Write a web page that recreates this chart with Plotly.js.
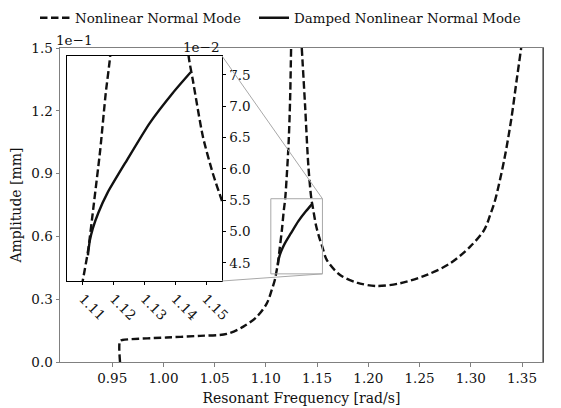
<!DOCTYPE html>
<html>
<head>
<meta charset="utf-8">
<script src="https://cdn.plot.ly/plotly-3.0.1.min.js"></script>
<style>html,body{margin:0;padding:0;background:#fff;}#chart{width:561px;height:408px;}</style>
</head>
<body>
<div id="chart"></div>
<script>
// Nonlinear Normal Mode backbone (null = break where curve leaves the top of the view)
const nnmFreq = [0.9576, 0.9576, 0.9600, 1.0030, 1.0357, 1.0618, 1.0780, 1.0911, 1.1009, 1.1057, 1.1087,
  1.1099, 1.1117, 1.1134, 1.1156, 1.1174, 1.1188, 1.1205, 1.1222, 1.1236, 1.1246, null,
  1.1350, 1.1383, 1.1415, 1.1444, 1.1457, 1.1490, 1.1522, 1.1551, 1.1595, 1.1724, 1.1888,
  1.2083, 1.2310, 1.2571, 1.2798, 1.2994, 1.3131, 1.3189, 1.3238, 1.3326, 1.3394, 1.3448, 1.3492];
const nnmAmp = [0.000, 0.100, 0.105, 0.117, 0.125, 0.134, 0.169, 0.216, 0.280, 0.344, 0.392,
  0.421, 0.471, 0.539, 0.630, 0.721, 0.778, 0.900, 1.050, 1.250, 1.500, null,
  1.500, 1.220, 0.933, 0.778, 0.742, 0.651, 0.593, 0.550, 0.487, 0.416, 0.379,
  0.363, 0.376, 0.416, 0.471, 0.551, 0.631, 0.702, 0.774, 0.965, 1.156, 1.347, 1.500];
// Damped Nonlinear Normal Mode
const dampFreq = [1.1116, 1.1122, 1.1132, 1.1150, 1.1180, 1.1243, 1.1317, 1.1392, 1.1450];
const dampAmp  = [0.462, 0.485, 0.505, 0.530, 0.562, 0.614, 0.673, 0.721, 0.754];

// Tick labels
const mainXTicks = [0.95, 1.00, 1.05, 1.10, 1.15, 1.20, 1.25, 1.30, 1.35];
const mainYTicks = [0.0, 0.3, 0.6, 0.9, 1.2, 1.5];
const insetXTicks = [1.11, 1.12, 1.13, 1.14, 1.15];
const insetYTicks = [0.45, 0.50, 0.55, 0.60, 0.65, 0.70, 0.75];
const insetYText = ['4.5', '5.0', '5.5', '6.0', '6.5', '7.0', '7.5'];

// Zoom window (main-axis units)
const zoomX = [1.1048, 1.1552];
const zoomY = [0.421, 0.780];

const FONT = 'DejaVu Serif, serif';
const dashStyle = '7.5px,3.5px';

const traces = [
  {x: nnmFreq, y: nnmAmp, mode: 'lines', name: 'Nonlinear Normal Mode', connectgaps: false, legend: 'legend',
   line: {color: '#111', width: 2.4, dash: dashStyle, shape: 'spline', smoothing: 0.9}, xaxis: 'x', yaxis: 'y'},
  {x: dampFreq, y: dampAmp, mode: 'lines', name: 'Damped Nonlinear Normal Mode', legend: 'legend2',
   line: {color: '#111', width: 2.4, shape: 'spline', smoothing: 0.6}, xaxis: 'x', yaxis: 'y'},
  {x: nnmFreq, y: nnmAmp, mode: 'lines', showlegend: false, connectgaps: false,
   line: {color: '#111', width: 2.4, dash: dashStyle, shape: 'spline', smoothing: 0.6}, xaxis: 'x2', yaxis: 'y2'},
  {x: dampFreq, y: dampAmp, mode: 'lines', showlegend: false,
   line: {color: '#111', width: 2.4, shape: 'spline', smoothing: 0.6}, xaxis: 'x2', yaxis: 'y2'}
];

const insetDomX = [0.0145, 0.3354];
const insetDomY = [0.258, 0.9745];

const legendCommon = {orientation: 'h', xanchor: 'left', yanchor: 'middle', y: 1.0955,
  font: {family: FONT, size: 13.4, color: '#111'}, bgcolor: 'rgba(0,0,0,0)'};

const layout = {
  width: 561, height: 408,
  margin: {l: 60, r: 18, t: 48, b: 46, autoexpand: false},
  paper_bgcolor: '#fff', plot_bgcolor: '#fff',
  font: {family: FONT, size: 13.5, color: '#111'},
  showlegend: true,
  legend: Object.assign({}, legendCommon, {x: -0.0518}),
  legend2: Object.assign({}, legendCommon, {x: 0.4017}),
  xaxis: {range: [0.899, 1.3705], tickvals: mainXTicks, ticktext: mainXTicks.map(v => v.toFixed(2)),
          showgrid: false, zeroline: false, showline: true, mirror: true, linecolor: '#808080', linewidth: 1,
          ticks: 'outside', ticklen: 3.5, tickcolor: '#808080',
          title: {text: 'Resonant Frequency [rad/s]', font: {family: FONT, size: 14}, standoff: 8},
          domain: [0, 1], anchor: 'y'},
  yaxis: {range: [0, 1.5], tickvals: mainYTicks, ticktext: mainYTicks.map(v => v.toFixed(1)),
          showgrid: false, zeroline: false, showline: true, mirror: true, linecolor: '#808080', linewidth: 1,
          ticks: 'outside', ticklen: 3.5, tickcolor: '#808080',
          title: {text: 'Amplitude [mm]', font: {family: FONT, size: 14}, standoff: 6},
          domain: [0, 1], anchor: 'x'},
  xaxis2: {range: zoomX, domain: insetDomX, anchor: 'y2', tickvals: insetXTicks,
           ticktext: insetXTicks.map(v => v.toFixed(2)), tickangle: 45,
           showgrid: false, zeroline: false, showline: true, mirror: true, linecolor: '#000', linewidth: 1,
           ticks: 'outside', ticklen: 3.5, tickcolor: '#000'},
  yaxis2: {range: zoomY, domain: insetDomY, anchor: 'x2', side: 'right', tickvals: insetYTicks, ticktext: insetYText,
           showgrid: false, zeroline: false, showline: true, mirror: true, linecolor: '#000', linewidth: 1,
           ticks: 'outside', ticklen: 3.5, tickcolor: '#000'},
  shapes: [
    {type: 'rect', xref: 'x', yref: 'y', x0: zoomX[0], x1: zoomX[1], y0: zoomY[0], y1: zoomY[1],
     line: {color: '#a8a8a8', width: 1}, layer: 'above'},
    {type: 'line', xref: 'x', yref: 'y', x0: 1.0572, y0: 1.4618, x1: zoomX[1], y1: zoomY[1],
     line: {color: '#a8a8a8', width: 1}, layer: 'above'},
    {type: 'line', xref: 'x', yref: 'y', x0: 1.0572, y0: 0.387, x1: zoomX[1], y1: zoomY[0],
     line: {color: '#a8a8a8', width: 1}, layer: 'above'},
    {type: 'line', xref: 'paper', yref: 'paper', x0: 1, x1: 1, y0: 0, y1: 1,
     line: {color: '#222', width: 1}, layer: 'above'}
  ],
  annotations: [
    {text: '1e\u22121', xref: 'paper', yref: 'paper', x: 0.029, y: 1.027, showarrow: false,
     xanchor: 'center', yanchor: 'middle', font: {family: FONT, size: 13.5, color: '#111'}},
    {text: '1e\u22122', xref: 'paper', yref: 'paper', x: 0.292, y: 1.003, showarrow: false,
     xanchor: 'center', yanchor: 'middle', font: {family: FONT, size: 13.5, color: '#111'}}
  ]
};

Plotly.newPlot('chart', traces, layout, {displayModeBar: false, staticPlot: true});
</script>
</body>
</html>
